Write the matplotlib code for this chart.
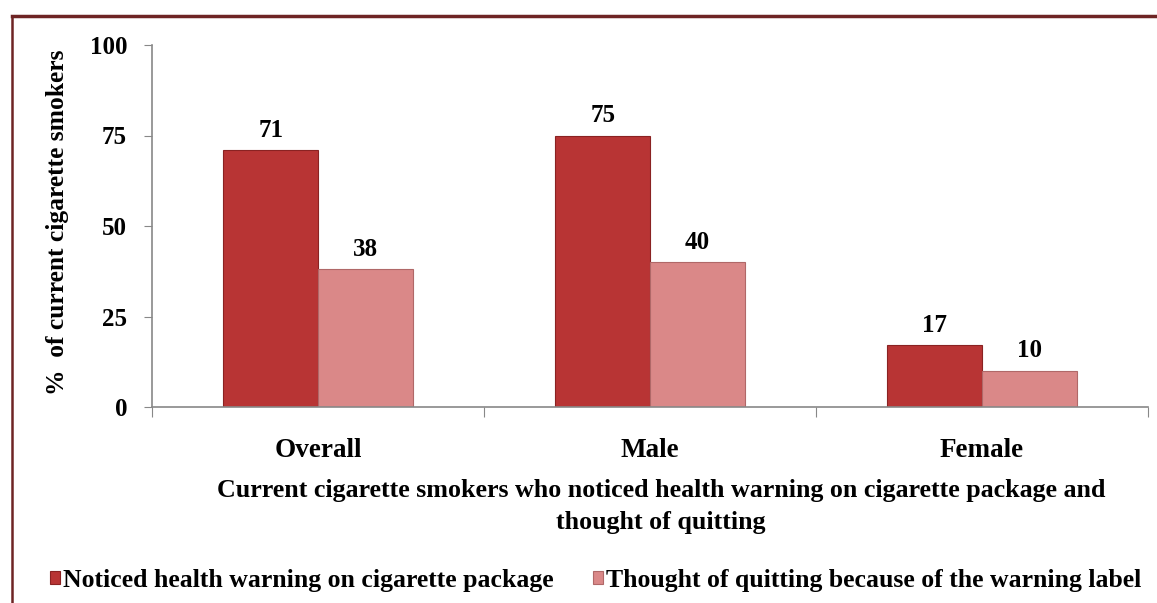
import matplotlib
matplotlib.use("Agg")
import matplotlib.pyplot as plt
import numpy as np
from matplotlib.lines import Line2D

categories = ["Overall", "Male", "Female"]
noticed = [71, 75, 17]
thought = [38, 40, 10]
series_names = ["Noticed health warning on cigarette package",
                "Thought of quitting because of the warning label"]
yticks = [0, 25, 50, 75, 100]

plt.rcParams['font.family'] = ['Liberation Serif', 'DejaVu Serif']
plt.rcParams['font.weight'] = 'bold'

W, H = 1157, 603
fig = plt.figure(figsize=(W/100, H/100), dpi=100)
ax = fig.add_axes([152/W, 1-407/H, (1148-152)/W, (407-45)/H])

x = np.arange(len(categories))
bw = 0.285
c1, c2 = '#B83434', '#DA8888'
b1 = ax.bar(x - bw/2, noticed, bw, color=c1, edgecolor='#8A2222', linewidth=0.8, label=series_names[0])
b2 = ax.bar(x + bw/2, thought, bw, color=c2, edgecolor='#B06868', linewidth=0.8, label=series_names[1])

for bars, vals in ((b1, noticed), (b2, thought)):
    for r, v in zip(bars, vals):
        ax.annotate(str(v), (r.get_x() + r.get_width()/2, v), xytext=(0, 6),
                    textcoords='offset points', ha='center', va='bottom',
                    fontsize=18, fontweight='bold')

ax.set_xlim(-0.5, 2.5)
ax.set_ylim(0, 100)
ax.set_yticks(yticks)
ax.set_yticklabels([str(t) for t in yticks], fontsize=18, fontweight='bold')
ax.set_xticks([-0.5, 0.5, 1.5, 2.5])
ax.set_xticklabels([])
ax.set_xticks(x, minor=True)
ax.set_xticklabels(categories, minor=True, fontsize=19.5, fontweight='bold')
ax.tick_params(axis='x', which='minor', length=0, pad=22)
ax.tick_params(axis='x', which='major', length=7, color='#888888', direction='out')
ax.tick_params(axis='y', length=6, color='#888888', pad=12)
for s in ('top', 'right'):
    ax.spines[s].set_visible(False)
for s in ('left', 'bottom'):
    ax.spines[s].set_color('#888888')
    ax.spines[s].set_linewidth(1.2)

ax.set_ylabel("%  of current cigarette smokers", fontsize=18.4, fontweight='bold')
ax.yaxis.set_label_coords(-0.083, 0.51)
fig.text(661/W, 1-491/H, "Current cigarette smokers who noticed health warning on cigarette package and",
         ha='center', va='center', fontsize=18.7, fontweight='bold')
fig.text(661/W, 1-522/H, "thought of quitting", ha='center', va='center', fontsize=18.7, fontweight='bold')

leg = fig.legend(handles=[b1, b2], labels=series_names, loc='center left',
                 bbox_to_anchor=(50/W, 1-580/H), ncol=2, frameon=False,
                 handlelength=0.4, handleheight=0.4, handletextpad=0.12,
                 columnspacing=1.5, borderaxespad=0, borderpad=0,
                 prop={'weight': 'bold', 'size': 18.5})

# frame lines
fig.add_artist(Line2D([12/W, 1.0], [1-16/H, 1-16/H], color='#6E2424', linewidth=2.5))
fig.add_artist(Line2D([12/W, 12/W], [1-16/H, 0], color='#6E2424', linewidth=1.8))

fig.savefig("out.png", dpi=100)
